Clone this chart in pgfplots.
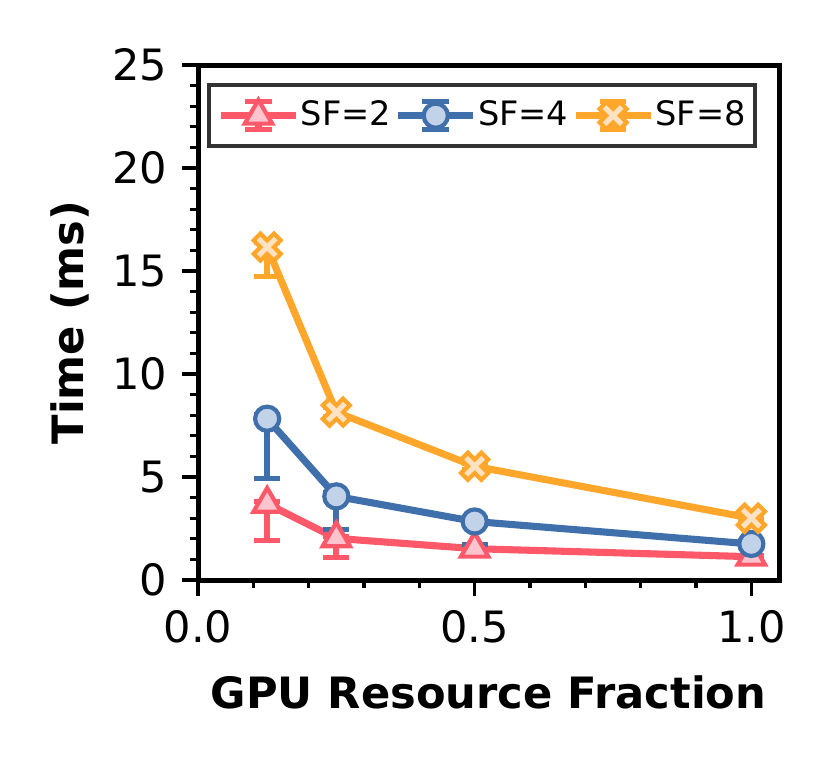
\documentclass[border=0pt]{standalone}
\usepackage{fontspec}
\setmainfont{DejaVu Sans}
\usepackage{pgfplots}
\pgfplotsset{compat=1.18}

\definecolor{cred}{RGB}{255,88,104}
\definecolor{credf}{RGB}{255,196,206}
\definecolor{cblue}{RGB}{64,112,172}
\definecolor{cbluef}{RGB}{194,210,232}
\definecolor{corange}{RGB}{255,166,43}
\definecolor{corangef}{RGB}{255,226,194}

\pgfdeclareplotmark{fatX}{%
 \pgfpathmoveto{\pgfpoint{-0.5\pgfplotmarksize}{-1\pgfplotmarksize}}%
 \pgfpathlineto{\pgfpoint{0pt}{-0.5\pgfplotmarksize}}%
 \pgfpathlineto{\pgfpoint{0.5\pgfplotmarksize}{-1\pgfplotmarksize}}%
 \pgfpathlineto{\pgfpoint{1\pgfplotmarksize}{-0.5\pgfplotmarksize}}%
 \pgfpathlineto{\pgfpoint{0.5\pgfplotmarksize}{0pt}}%
 \pgfpathlineto{\pgfpoint{1\pgfplotmarksize}{0.5\pgfplotmarksize}}%
 \pgfpathlineto{\pgfpoint{0.5\pgfplotmarksize}{1\pgfplotmarksize}}%
 \pgfpathlineto{\pgfpoint{0pt}{0.5\pgfplotmarksize}}%
 \pgfpathlineto{\pgfpoint{-0.5\pgfplotmarksize}{1\pgfplotmarksize}}%
 \pgfpathlineto{\pgfpoint{-1\pgfplotmarksize}{0.5\pgfplotmarksize}}%
 \pgfpathlineto{\pgfpoint{-0.5\pgfplotmarksize}{0pt}}%
 \pgfpathlineto{\pgfpoint{-1\pgfplotmarksize}{-0.5\pgfplotmarksize}}%
 \pgfpathclose
 \pgfusepathqfillstroke
}

\pgfplotsset{
  eblegend/.style={legend image code/.code={%
    \draw[line width=1.5bp,mark=none] (9bp,-3.4bp) -- (9bp,3.4bp);
    \draw[line width=1.2bp,mark=none] (5.8bp,-3.4bp) -- (12.2bp,-3.4bp) (5.8bp,3.4bp) -- (12.2bp,3.4bp);
    \draw[mark repeat=2,mark phase=2] plot coordinates {(0bp,0bp) (9bp,0bp) (18bp,0bp)};
  }},
}

\begin{document}
\begin{tikzpicture}
\begin{axis}[
  scale only axis, width=139.44bp, height=123.6bp,
  xmin=0, xmax=1.05, ymin=0, ymax=25,
  xtick={0,0.5,1}, xticklabels={0.0,0.5,1.0}, minor x tick num=4,
  ytick={0,5,10,15,20,25}, minor y tick num=4,
  tick align=outside, xtick pos=bottom, ytick pos=left,
  major tick length=3.84bp, minor tick length=2bp,
  every tick/.style={black, line width=0.8bp},
  axis line style={line width=1.2bp},
  tick label style={font=\fontsize{10.4}{12}\selectfont},
  /pgf/number format/assume math mode=true,
  xlabel={GPU Resource Fraction}, ylabel={Time (ms)},
  label style={font=\fontsize{10.4}{12}\selectfont\bfseries},
  xlabel style={at={(axis description cs:0.5,-0.2175)}, anchor=center},
  ylabel style={at={(axis description cs:-0.2203,0.5)}, anchor=center},
  legend columns=3,
  legend cell align=left,
  legend style={at={(axis description cs:0.0155,0.965)}, anchor=north west,
    draw=black!80, line width=1bp, inner xsep=2bp, inner ysep=1.6bp,
    font=\fontsize{8.1}{9.5}\selectfont,
    nodes={inner xsep=0.3bp},
    /tikz/every even column/.append style={column sep=0.6bp}},
  error bars/error bar style={line width=1.5bp},
  error bars/error mark options={line width=1.2bp, mark size=3.1bp, rotate=90},
]
\addplot[color=cred, line width=1.7bp, mark=triangle*, mark size=3.8bp,
  mark options={fill=credf, draw=cred, line width=1bp, solid}, eblegend,
  error bars/.cd, y dir=both, y explicit]
  coordinates {
  (0.125,3.70) += (0,0.10) -= (0,1.80)
  (0.25,2.02) += (0,0.10) -= (0,0.92)
  (0.5,1.52) += (0,0.10) -= (0,0.10)
  (1.0,1.13) += (0,0.05) -= (0,0.05)
  };
\addlegendentry{SF=2}
\addplot[color=cblue, line width=1.7bp, mark=*, mark size=2.9bp,
  mark options={fill=cbluef, draw=cblue, line width=1bp, solid}, eblegend,
  error bars/.cd, y dir=both, y explicit]
  coordinates {
  (0.125,7.83) += (0,0.20) -= (0,2.90)
  (0.25,4.06) += (0,0.20) -= (0,1.62)
  (0.5,2.84) += (0,0.10) -= (0,1.13)
  (1.0,1.75) += (0,0.10) -= (0,0.10)
  };
\addlegendentry{SF=4}
\addplot[color=corange, line width=1.7bp, mark=fatX, mark size=3.25bp,
  mark options={fill=corangef, draw=corange, line width=1bp, solid}, eblegend,
  error bars/.cd, y dir=both, y explicit]
  coordinates {
  (0.125,16.16) += (0,0.20) -= (0,1.45)
  (0.25,8.15) += (0,0.20) -= (0,0.20)
  (0.5,5.52) += (0,0.15) -= (0,0.15)
  (1.0,3.00) += (0,0.10) -= (0,0.10)
  };
\addlegendentry{SF=8}
\end{axis}
\pgfresetboundingbox
\path[use as bounding box] (-47.52bp,-44.88bp) rectangle (151.92bp,139.2bp);
\end{tikzpicture}
\end{document}
